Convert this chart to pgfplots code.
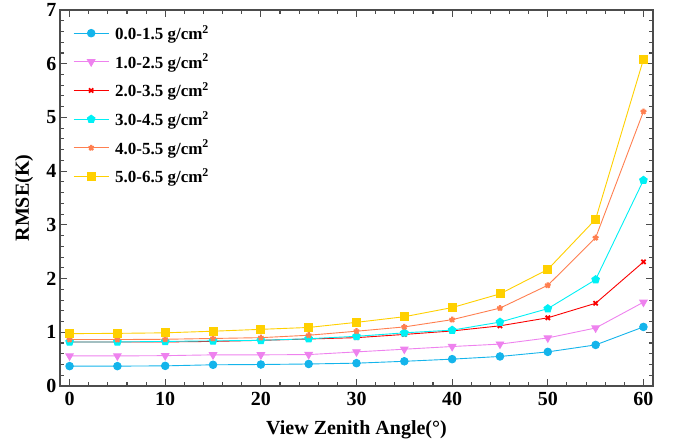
\documentclass[border=0pt]{standalone}
\usepackage{pgfplots}
\pgfplotsset{compat=1.18}
\usepackage{fontspec}
\setmainfont{Liberation Serif}
\definecolor{cA}{RGB}{20,180,235}
\definecolor{cB}{RGB}{238,130,238}
\definecolor{cC}{RGB}{250,0,0}
\definecolor{cD}{RGB}{0,240,245}
\definecolor{cE}{RGB}{255,127,80}
\definecolor{cF}{RGB}{255,208,0}
\begin{document}
\begin{tikzpicture}
\begin{axis}[
  scale only axis,
  width=593pt, height=376pt,
  xmin=-1, xmax=61, ymin=0, ymax=7,
  xtick={0,10,...,60}, ytick={0,1,...,7},
  minor x tick num=4, minor y tick num=4,
  tick align=inside,
  major tick length=7pt, minor tick length=4pt,
  every tick/.style={black!70, line width=1.1pt},
  axis line style={black!70, line width=1.5pt},
  /pgf/number format/assume math mode=true,
  ticklabel style={font=\fontsize{20}{22}\selectfont\bfseries},
  xticklabel style={yshift=-3pt},
  xlabel={View Zenith Angle(°)},
  ylabel={RMSE(K)},
  every axis x label/.style={at={(axis description cs:0.5,-0.117)}, anchor=center, font=\fontsize{20}{22}\selectfont\bfseries},
  every axis y label/.style={at={(axis description cs:-0.0607,0.5)}, anchor=center, rotate=90, font=\fontsize{20}{22}\selectfont\bfseries},
  legend style={draw=none, fill=none, at={(0.022,0.965)}, anchor=north west,
    font=\fontsize{17}{19}\selectfont\bfseries, row sep=9pt, column sep=4pt, inner sep=0pt},
  legend cell align=left,
  legend image code/.code={\draw[mark repeat=2,mark phase=2] plot coordinates {(0pt,0pt)(17.5pt,0pt)(35pt,0pt)};},
  every axis plot/.append style={line width=0.9pt},
]
\addplot[cA, mark=*, mark size=3.8pt] coordinates {(0,0.37)(5,0.37)(10,0.375)(15,0.395)(20,0.40)(25,0.41)(30,0.425)(35,0.46)(40,0.50)(45,0.55)(50,0.635)(55,0.765)(60,1.10)};
\addlegendentry{0.0-1.5 g/cm$^\mathbf{2}$}
\addplot[cB, mark=triangle*, mark size=4.3pt, mark options={rotate=180}] coordinates {(0,0.56)(5,0.56)(10,0.565)(15,0.58)(20,0.58)(25,0.585)(30,0.635)(35,0.685)(40,0.735)(45,0.78)(50,0.895)(55,1.08)(60,1.56)};
\addlegendentry{1.0-2.5 g/cm$^\mathbf{2}$}
\addplot[cC, mark=x, mark size=3pt, mark options={line width=1.8pt}] coordinates {(0,0.82)(5,0.82)(10,0.82)(15,0.83)(20,0.85)(25,0.875)(30,0.90)(35,0.96)(40,1.025)(45,1.12)(50,1.27)(55,1.54)(60,2.31)};
\addlegendentry{2.0-3.5 g/cm$^\mathbf{2}$}
\addplot[cD, mark=pentagon*, mark size=4pt] coordinates {(0,0.82)(5,0.82)(10,0.83)(15,0.84)(20,0.85)(25,0.88)(30,0.925)(35,0.99)(40,1.04)(45,1.19)(50,1.44)(55,1.98)(60,3.83)};
\addlegendentry{3.0-4.5 g/cm$^\mathbf{2}$}
\addplot[cE, mark=star, mark size=3pt, mark options={line width=2.2pt}] coordinates {(0,0.865)(5,0.865)(10,0.87)(15,0.885)(20,0.90)(25,0.945)(30,1.02)(35,1.10)(40,1.235)(45,1.45)(50,1.875)(55,2.76)(60,5.11)};
\addlegendentry{4.0-5.5 g/cm$^\mathbf{2}$}
\addplot[cF, mark=square*, mark size=4pt] coordinates {(0,0.975)(5,0.98)(10,0.99)(15,1.02)(20,1.055)(25,1.09)(30,1.185)(35,1.29)(40,1.46)(45,1.715)(50,2.17)(55,3.105)(60,6.08)};
\addlegendentry{5.0-6.5 g/cm$^\mathbf{2}$}
\end{axis}
\path (current axis.south west) ++(-60pt,-58pt);
\path (current axis.north east) ++(26pt,10pt);
\end{tikzpicture}
\end{document}
